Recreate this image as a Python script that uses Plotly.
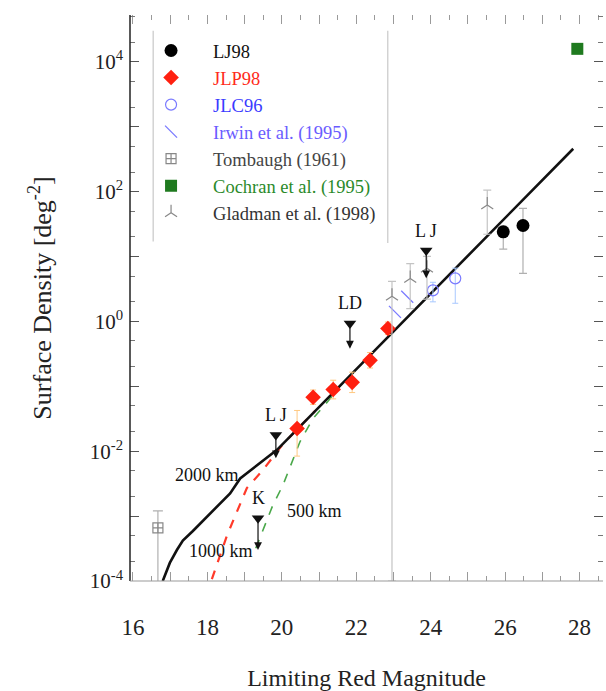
import numpy as np
import plotly.graph_objects as go

# ---------------- data ----------------
# model curves (surface density vs limiting R magnitude)
m2000_x = [16.80, 16.99, 17.18, 17.34, 17.61, 18.15, 18.61, 18.88, 19.49, 19.87, 27.83]
m2000_y = [1.0e-4, 1.9e-4, 3.0e-4, 4.2e-4, 5.9e-4, 1.2e-3, 2.24e-3, 3.8e-3, 7.1e-3, 1.05e-2, 457]
m1000_x = [18.12, 18.53, 19.06, 19.49, 20.03, 20.90]
m1000_y = [1.07e-4, 5.1e-4, 2.7e-3, 5.1e-3, 1.29e-2, 4.2e-2]
m500_x = [19.30, 19.49, 19.76, 20.03, 20.49, 20.84, 21.24, 21.60, 22.30]
m500_y = [3.2e-4, 5.9e-4, 1.48e-3, 3.0e-3, 1.41e-2, 3.2e-2, 5.9e-2, 0.107, 0.275]

# LJ98
lj98_x = [25.95, 26.48]
lj98_y = [24.0, 30.0]
lj98_ep = [5.0, 25.0]
lj98_em = [11.0, 24.5]

# JLP98
jlp98_x = [20.41, 20.84, 21.38, 21.89, 22.37, 22.85]
jlp98_y = [0.0224, 0.0676, 0.089, 0.115, 0.251, 0.776]
jlp98_ep = [0.020, 0.020, 0.035, 0.05, 0.08, 0.20]
jlp98_em = [0.014, 0.015, 0.025, 0.035, 0.06, 0.15]

# JLC96
jlc96_x = [24.06, 24.66]
jlc96_y = [3.0, 4.6]
jlc96_ep = [1.0, 2.0]
jlc96_em = [1.0, 2.7]

# Irwin et al. (1995)
irwin_x = [23.04, 23.37]
irwin_y = [1.4, 2.4]

# Tombaugh (1961)
tomb_x = [16.67]
tomb_y = [6.6e-4]
tomb_ep = [5.4e-4]
tomb_em = [6.59e-4]

# Cochran et al. (1995)
coch_x = [27.94]
coch_y = [15800]

# Gladman et al. (1998)
glad_x = [22.96, 23.45, 23.90, 25.52]
glad_y = [2.43, 4.57, 6.6, 62.0]
glad_ep = [1.7, 3.2, 3.4, 43.0]
glad_em = [2.4299, 3.0, 4.4, 40.0]

# upper limits (arrows)
lim_lab = ["L J", "K", "LD", "L J"]
lim_x = [19.84, 19.36, 21.83, 23.88]
lim_top = [1.78e-2, 9.3e-4, 0.93, 12.3]
lim_tip = [7.8e-3, 3.0e-4, 0.38, 4.6]

# curve labels
curve_lab = ["2000 km", "500 km", "1000 km"]
curve_lx = [17.99, 20.89, 18.37]
curve_ly = [4.3e-3, 1.2e-3, 2.9e-4]

# axis ticks
xtick_vals = list(range(16, 29))
ytick_vals = [1e-4, 1e-3, 1e-2, 1e-1, 1, 10, 100, 1e3, 1e4]
ytick_text = ["10<sup>-4</sup>", "", "10<sup>-2</sup>", "", "10<sup>0</sup>", "",
              "10<sup>2</sup>", "", "10<sup>4</sup>"]

SERIF = "Liberation Serif"

fig = go.Figure()

# model curves
fig.add_trace(go.Scatter(x=m1000_x, y=m1000_y, mode="lines", showlegend=False,
                         line=dict(color="#ff3a2a", width=2.2, dash="dash")))
fig.add_trace(go.Scatter(x=m500_x, y=m500_y, mode="lines", showlegend=False,
                         line=dict(color="#4aa84a", width=1.6, dash="dash")))
fig.add_trace(go.Scatter(x=m2000_x, y=m2000_y, mode="lines", showlegend=False,
                         line=dict(color="#111111", width=2.6)))


def leg(name, color):
    return ("<span style='color:%s;font-family:\"Liberation Serif\", serif'>%s</span>"
            % (color, name))


fig.add_trace(go.Scatter(
    x=lj98_x, y=lj98_y, mode="markers", name=leg("LJ98", "#111111"), legendgroup="a",
    marker=dict(symbol="circle", size=13, color="black"),
    error_y=dict(type="data", array=lj98_ep, arrayminus=lj98_em, color="#b0b0b0",
                 thickness=1.2, width=4)))
fig.add_trace(go.Scatter(
    x=jlp98_x, y=jlp98_y, mode="markers", name=leg("JLP98", "#ff2a1a"), legendgroup="b",
    marker=dict(symbol="diamond", size=12, color="#ff2010"),
    error_y=dict(type="data", array=jlp98_ep, arrayminus=jlp98_em, color="#ffc880",
                 thickness=1, width=3)))
fig.add_trace(go.Scatter(
    x=jlc96_x, y=jlc96_y, mode="markers", name=leg("JLC96", "#3a3aff"), legendgroup="c",
    marker=dict(symbol="circle-open", size=11, color="#7a7aff", line=dict(width=1.2)),
    error_y=dict(type="data", array=jlc96_ep, arrayminus=jlc96_em, color="#a8c8ff",
                 thickness=1, width=3)))
fig.add_trace(go.Scatter(
    x=irwin_x, y=irwin_y, mode="markers", name=leg("Irwin et al. (1995)", "#6a5cff"),
    legendgroup="d",
    marker=dict(symbol="line-nw", size=12, color="#7a7aff", line=dict(width=1.3, color="#7a7aff"))))
fig.add_trace(go.Scatter(
    x=tomb_x, y=tomb_y, mode="markers", name=leg("Tombaugh (1961)", "#444444"), legendgroup="e",
    marker=dict(symbol="square-cross-open", size=10, color="#888888", line=dict(width=1.2)),
    error_y=dict(type="data", array=tomb_ep, arrayminus=tomb_em, color="#b0b0b0",
                 thickness=1.2, width=5)))
fig.add_trace(go.Scatter(
    x=coch_x, y=coch_y, mode="markers", name=leg("Cochran et al. (1995)", "#2a8a2a"),
    legendgroup="f",
    marker=dict(symbol="square", size=12, color="#1f7a1f")))
fig.add_trace(go.Scatter(
    x=glad_x, y=glad_y, mode="markers", name=leg("Gladman et al. (1998)", "#333333"),
    legendgroup="g",
    marker=dict(symbol="y-up-open", size=10, color="#888888", line=dict(width=1.2, color="#888888")),
    error_y=dict(type="data", array=glad_ep, arrayminus=glad_em, color="#c4c4c4",
                 thickness=1.2, width=4)))

# upper-limit markers
fig.add_trace(go.Scatter(x=lim_x, y=lim_top, mode="markers", showlegend=False,
                         marker=dict(symbol="triangle-down", size=11, color="#111111")))

annotations = []
for lab, x, yt, yp in zip(lim_lab, lim_x, lim_top, lim_tip):
    annotations.append(dict(x=x, y=np.log10(yp), ax=x, ay=np.log10(yt), axref="x", ayref="y",
                            xref="x", yref="y", showarrow=True, arrowhead=2, arrowsize=1.3,
                            arrowwidth=1.2, arrowcolor="#111111", text=""))
    annotations.append(dict(x=x, y=np.log10(yt), xref="x", yref="y", text=lab, showarrow=False,
                            yanchor="bottom", yshift=8,
                            font=dict(family=SERIF, size=18, color="#111111")))
for lab, x, y in zip(curve_lab, curve_lx, curve_ly):
    annotations.append(dict(x=x, y=np.log10(y), xref="x", yref="y", text=lab, showarrow=False,
                            font=dict(family=SERIF, size=18, color="#111111")))

shapes = [
    dict(type="line", xref="paper", yref="paper", x0=0, x1=0, y0=0, y1=1,
         line=dict(color="#222222", width=1.5)),
    dict(type="line", xref="paper", yref="paper", x0=0, x1=1, y0=0, y1=0,
         line=dict(color="#999999", width=1.2)),
    dict(type="line", xref="paper", yref="paper", x0=0.049, x1=0.049, y0=0.60, y1=0.972,
         line=dict(color="#c8c8c8", width=1.2)),
    dict(type="line", xref="paper", yref="paper", x0=0.545, x1=0.545, y0=0.597, y1=0.972,
         line=dict(color="#c8c8c8", width=1.2)),
]

fig.update_layout(
    width=606, height=691,
    margin=dict(l=130, r=3, t=15, b=110),
    paper_bgcolor="white", plot_bgcolor="white",
    font=dict(family=SERIF, color="#222222"),
    showlegend=True,
    legend=dict(x=-0.002, y=0.97, xanchor="left", yanchor="top", bgcolor="rgba(0,0,0,0)",
                borderwidth=0, font=dict(family=SERIF, size=18.5),
                traceorder="grouped", tracegroupgap=0, itemwidth=74),
    annotations=annotations,
    shapes=shapes,
    xaxis=dict(range=[15.92, 28.63], tickmode="array", tickvals=xtick_vals,
               ticktext=[str(v) if v % 2 == 0 else "" for v in xtick_vals],
               ticks="inside", ticklen=9, tickwidth=1, tickcolor="#9a9a9a",
               showline=False, mirror="ticks", showgrid=False, zeroline=False,
               tickfont=dict(family=SERIF, size=23, color="#222222"),
               ticklabelstandoff=30,
               minor=dict(dtick=0.5, tick0=16, ticks="inside", ticklen=5, tickcolor="#9a9a9a",
                          showgrid=False),
               title=dict(text="Limiting Red Magnitude", standoff=30,
                          font=dict(family=SERIF, size=24, color="#222222")),
               automargin=False),
    yaxis=dict(type="log", range=[-4, 4.72], tickmode="array", tickvals=ytick_vals,
               ticktext=ytick_text, ticks="inside", ticklen=9, tickwidth=1, tickcolor="#555555",
               showline=False, mirror="ticks", showgrid=False, zeroline=False,
               tickfont=dict(family=SERIF, size=21, color="#222222"),
               ticklabelstandoff=6,
               minor=dict(dtick="D2", ticks="inside", ticklen=5, tickcolor="#777777",
                          showgrid=False),
               title=dict(text="Surface Density [deg<sup>-2</sup>]", standoff=30,
                          font=dict(family=SERIF, size=26, color="#222222")),
               automargin=False),
)

fig.write_html("out.html")
